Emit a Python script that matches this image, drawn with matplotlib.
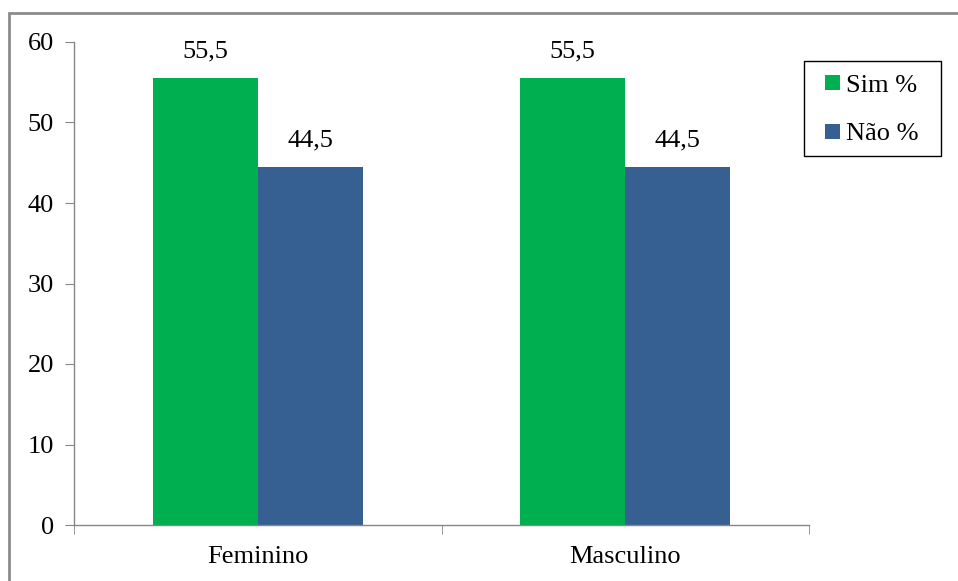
import numpy as np
import matplotlib.pyplot as plt
from matplotlib.patches import Rectangle

plt.rcParams['font.family'] = ['Liberation Serif', 'DejaVu Serif']
plt.rcParams['font.size'] = 19

categorias = ['Feminino', 'Masculino']
sim = [55.5, 55.5]
nao = [44.5, 44.5]
series = ['Sim %', 'Não %']
cores = ['#00B050', '#376092']

fig = plt.figure(figsize=(9.58, 5.81), dpi=100)
ax = fig.add_axes([74 / 958, 56 / 581, 735 / 958, 483 / 581])

# moldura cinza do gráfico (cortada à direita e embaixo)
fig.patches.append(Rectangle((9 / 958, -0.1), 1.2, 1 - 13 / 581 + 0.1,
                             transform=fig.transFigure, fill=False,
                             edgecolor='#8c8c8c', linewidth=2))

x = np.arange(len(categorias))
w = 0.286
b1 = ax.bar(x - w / 2, sim, w, color=cores[0], label=series[0])
b2 = ax.bar(x + w / 2, nao, w, color=cores[1], label=series[1])

for bars in (b1, b2):
    for r in bars:
        v = r.get_height()
        ax.annotate(f'{v:.1f}'.replace('.', ','),
                    (r.get_x() + r.get_width() / 2, v),
                    xytext=(0, 11), textcoords='offset points',
                    ha='center', va='bottom')

ax.set_xlim(-0.5, 1.5)
ax.set_ylim(0, 60)
ax.set_yticks(range(0, 61, 10))
ax.set_xticks(x)
ax.set_xticklabels(categorias)
ax.set_xticks([-0.5, 0.5, 1.5], minor=True)
ax.tick_params(axis='x', which='major', length=0, pad=15)
ax.tick_params(axis='x', which='minor', length=6.5, color='#868686', direction='out')
ax.tick_params(axis='y', length=6.5, color='#868686', direction='out', pad=8)

for s in ('top', 'right'):
    ax.spines[s].set_visible(False)
for s in ('left', 'bottom'):
    ax.spines[s].set_color('#868686')
    ax.spines[s].set_linewidth(1)

# caixa da legenda desenhada à parte para acertar o tamanho
fig.patches.append(Rectangle((804 / 958, 1 - 156 / 581), 137 / 958, 95 / 581,
                             transform=fig.transFigure, fill=False,
                             edgecolor='black', linewidth=1))
leg = fig.legend(loc='upper left', bbox_to_anchor=(825 / 958, 1 - 75 / 581),
                 frameon=False, handlelength=0.55, handleheight=0.5,
                 handletextpad=0.25, labelspacing=1.0, borderpad=0,
                 borderaxespad=0)

fig.savefig('out.png', dpi=100)
